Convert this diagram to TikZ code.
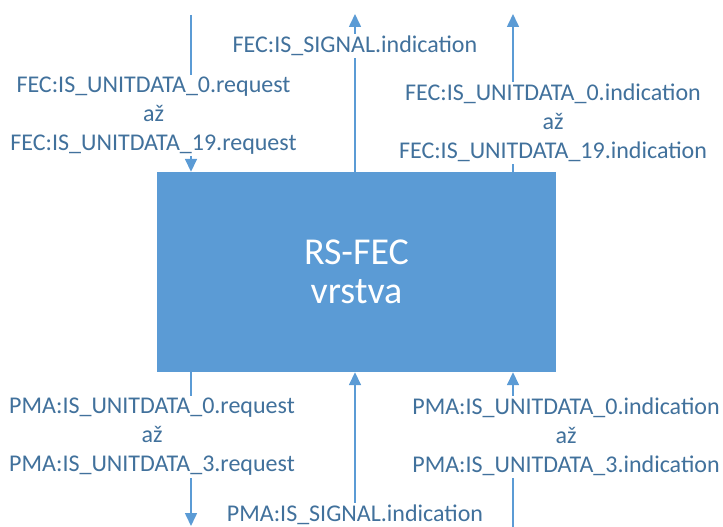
\documentclass[tikz,border=0pt]{standalone}
\usepackage{fontspec}
\setmainfont{Carlito}
\usetikzlibrary{arrows.meta,backgrounds}
\definecolor{boxblue}{HTML}{5B9BD5}
\definecolor{txtblue}{HTML}{41719C}
\begin{document}
\begin{tikzpicture}[x=1pt,y=-1pt,
  lbl/.style={fill=white,text=txtblue,align=center,inner sep=2pt,
    font=\fontsize{24}{29}\selectfont},
  conn/.style={draw=boxblue,line width=1.6pt,-{Triangle[width=12pt,length=13pt]}}]
\useasboundingbox (0,0) rectangle (723,527);
\node[fill=boxblue,minimum width=399pt,minimum height=200pt,inner sep=0pt,
  text=white,align=center,font=\fontsize{38}{42}\selectfont] (box) at (356.5,272) {\raisebox{-3pt}{RS-FEC}\\vrstva};
% coordinates
\coordinate (tl) at (191,15);
\coordinate (tm) at (355,14);
\coordinate (tr) at (513,14);
\coordinate (bl) at (191,526);
\coordinate (bm) at (355,527);
\coordinate (br) at (513,527);
% labels
\node[lbl] (ltl) at (153.5,115.5) {FEC:IS\_UNITDATA\_0.request\\až\\FEC:IS\_UNITDATA\_19.request};
\node[lbl] (ltm) at (355,46) {FEC:IS\_SIGNAL.indication};
\node[lbl] (ltr) at (553,123) {FEC:IS\_UNITDATA\_0.indication\\až\\FEC:IS\_UNITDATA\_19.indication};
\node[lbl] (lbl) at (152,437) {PMA:IS\_UNITDATA\_0.request\\až\\PMA:IS\_UNITDATA\_3.request};
\node[lbl] (lbm) at (355,515) {PMA:IS\_SIGNAL.indication};
\node[lbl] (lbr) at (566,437) {PMA:IS\_UNITDATA\_0.indication\\až\\PMA:IS\_UNITDATA\_3.indication};
\begin{scope}[on background layer]
\draw[conn] (tl) -- (tl |- box.north);
\draw[conn] (tm |- box.north) -- (tm);
\draw[conn] (tr |- box.north) -- (tr);
\draw[conn] (bl |- box.south) -- (bl);
\draw[conn] (bm) -- (bm |- box.south);
\draw[conn] (br) -- (br |- box.south);
\end{scope}
\end{tikzpicture}
\end{document}
